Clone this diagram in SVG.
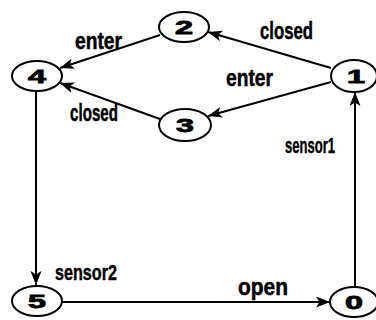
<svg xmlns="http://www.w3.org/2000/svg" width="376" height="320" viewBox="0 0 376 320">
<style>
.n{fill:#fff;stroke:#000;stroke-width:2}
.d{font-family:"Liberation Sans",Arial,sans-serif;font-weight:bold;font-size:18px;text-anchor:middle;stroke:#000;stroke-width:0.8}
.l{font-family:"Liberation Sans",Arial,sans-serif;font-weight:bold;font-size:24px;stroke:#000;stroke-width:0.5}
.s{font-family:"Liberation Sans",Arial,sans-serif;font-weight:bold;font-size:22px;stroke:#000;stroke-width:0.4}
.e{stroke:#000;stroke-width:2;fill:none;marker-end:url(#a)}
</style>
<defs>
<marker id="a" markerUnits="userSpaceOnUse" markerWidth="15" markerHeight="12" refX="14" refY="5.5" orient="auto">
<path d="M0,0 L14,5.5 L0,11 L3.5,5.5 z" fill="#000"/>
</marker>
</defs>
<rect width="376" height="320" fill="#fff"/>
<g id="edges">
<line class="e" x1="331" y1="68" x2="208" y2="32"/>
<line class="e" x1="331" y1="82" x2="208" y2="116"/>
<line class="e" x1="160" y1="35" x2="60" y2="68"/>
<line class="e" x1="160" y1="119" x2="60" y2="83"/>
<line class="e" x1="36" y1="92" x2="36" y2="285"/>
<line class="e" x1="62" y1="302" x2="330" y2="302"/>
<line class="e" x1="355" y1="287" x2="355" y2="92"/>
<text class="l" x="75" y="49" textLength="47" lengthAdjust="spacingAndGlyphs">enter</text>
<text class="l" x="70" y="121" textLength="48" lengthAdjust="spacingAndGlyphs">closed</text>
<text class="l" x="260" y="39" textLength="53" lengthAdjust="spacingAndGlyphs">closed</text>
<text class="l" x="226" y="86" textLength="47" lengthAdjust="spacingAndGlyphs">enter</text>
<text class="s" x="285" y="153" textLength="50" lengthAdjust="spacingAndGlyphs">sensor1</text>
<text class="s" x="55" y="280" textLength="62" lengthAdjust="spacingAndGlyphs">sensor2</text>
<text class="l" x="238" y="295" textLength="50" lengthAdjust="spacingAndGlyphs">open</text>
</g>
<g id="n2"><ellipse class="n" cx="184" cy="27" rx="25" ry="15"/><text class="d" x="184" y="33.5" textLength="18" lengthAdjust="spacingAndGlyphs">2</text></g>
<g id="n4"><ellipse class="n" cx="37" cy="76" rx="25" ry="15"/><text class="d" x="37" y="82.5" textLength="18" lengthAdjust="spacingAndGlyphs">4</text></g>
<g id="n3"><ellipse class="n" cx="185" cy="125" rx="26" ry="16"/><text class="d" x="185" y="131.5" textLength="18" lengthAdjust="spacingAndGlyphs">3</text></g>
<g id="n1"><ellipse class="n" cx="354" cy="76" rx="23" ry="16"/><text class="d" x="356" y="82.5" textLength="18" lengthAdjust="spacingAndGlyphs">1</text></g>
<g id="n5"><ellipse class="n" cx="37" cy="301" rx="25" ry="15"/><text class="d" x="37" y="307.5" textLength="18" lengthAdjust="spacingAndGlyphs">5</text></g>
<g id="n0"><ellipse class="n" cx="354" cy="302" rx="24" ry="15"/><text class="d" x="354" y="308.5" textLength="18" lengthAdjust="spacingAndGlyphs">0</text></g>
</svg>
